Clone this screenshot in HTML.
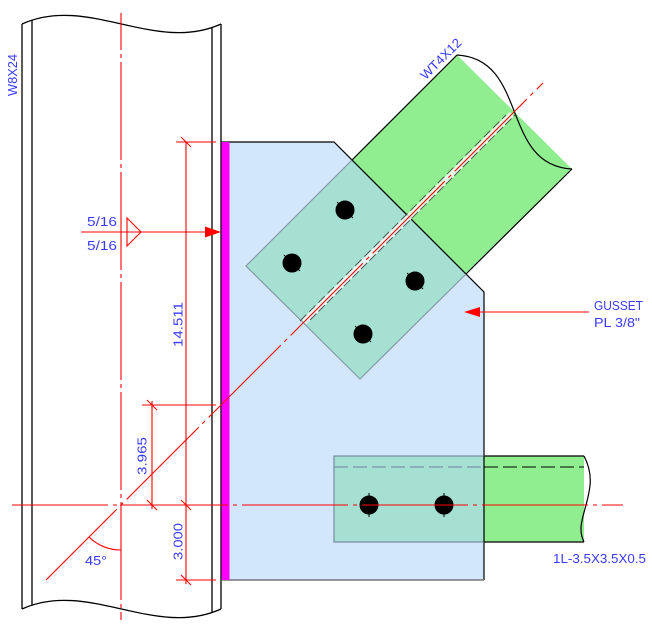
<!DOCTYPE html>
<html>
<head>
<meta charset="utf-8">
<style>
  html,body{margin:0;padding:0;background:#fff;}
  svg{display:block;}
  text{font-family:"Liberation Sans",sans-serif;fill:#3a3aff;font-size:13px;}
</style>
</head>
<body>
<svg width="652" height="631" viewBox="0 0 652 631" xmlns="http://www.w3.org/2000/svg">
  <rect width="652" height="631" fill="#fff"/>

  <!-- Column W8X24 -->
  <g stroke="#000" stroke-width="1.3" fill="none">
    <path d="M22,24 C88,-6 155,54 221,24"/>
    <path d="M22,609 C88,579 155,639 221,609"/>
    <line x1="22" y1="24" x2="22" y2="609"/>
    <line x1="32" y1="20.5" x2="32" y2="605.5"/>
    <line x1="212" y1="27.5" x2="212" y2="612.5"/>
    <line x1="221" y1="24" x2="221" y2="609"/>
  </g>

  <!-- Gusset plate -->
  <polygon points="221,142 334,142 484,292 484,580 221,580" fill="#d2e6fc"/>
  <polyline points="221,142 334,142 484,292 484,580" fill="none" stroke="#000" stroke-width="1.2"/>
  <line x1="221" y1="580" x2="484" y2="580" stroke="#777" stroke-width="1.5"/>

  <!-- Weld (magenta) -->
  <rect x="221" y="142" width="8.5" height="438" fill="#ff00ff"/>
  <line x1="221" y1="142" x2="221" y2="580" stroke="#000" stroke-width="1"/>

  <!-- WT4X12 -->
  <polygon points="352,160 457,55 572,169 466,274" fill="#90ee90"/>
  <polygon points="246,266 352,160 466,274 360,379" fill="#a5e0d2" stroke="#8394a6" stroke-width="1.1"/>
  <g stroke="#000" stroke-width="1.2" fill="none">
    <line x1="352" y1="160" x2="457" y2="55"/>
    <line x1="466" y1="274" x2="572" y2="169"/>
    <line x1="352" y1="160" x2="466" y2="274"/>
    <path d="M457,55 C528.9,58.9 500.1,165.1 572,169"/>
  </g>
  <!-- WT stem (hidden) -->
  <line x1="304" y1="322" x2="512" y2="114" stroke="#fff" stroke-width="6" opacity="0.8"/>
  <line x1="300" y1="321" x2="506" y2="115" stroke="#333" stroke-width="1" stroke-dasharray="9,4" opacity="0.8"/>
  <line x1="310" y1="320" x2="516" y2="114" stroke="#333" stroke-width="1" stroke-dasharray="9,3" opacity="0.8"/>

  <!-- Angle 1L -->
  <rect x="484" y="456" width="100" height="86" fill="#90ee90"/>
  <rect x="334" y="456" width="150" height="86" fill="#a5e0d2" stroke="#6f849a" stroke-width="1.1"/>
  <g stroke="#000" stroke-width="1.2" fill="none">
    <line x1="484" y1="456" x2="584" y2="456"/>
    <line x1="484" y1="542" x2="584" y2="542"/>
    <path d="M584,456 C594,475 590,490 586,505 C582,520 578,530 584,542"/>
    <line x1="484" y1="456" x2="484" y2="542"/>
  </g>
  <line x1="334" y1="467" x2="484" y2="467" stroke="#6f849a" stroke-width="1" stroke-dasharray="14,5"/>
  <line x1="484" y1="467" x2="584" y2="467" stroke="#000" stroke-width="1" stroke-dasharray="14,5"/>

  <!-- Bolts -->
  <g fill="#000" stroke="#000" stroke-width="1">
    <circle cx="345" cy="210" r="9"/>
    <circle cx="292" cy="263" r="9"/>
    <circle cx="415" cy="281" r="9"/>
    <circle cx="363" cy="334" r="9"/>
    <circle cx="369" cy="505" r="9"/>
    <circle cx="444" cy="505" r="9"/>
    <line x1="369" y1="493" x2="369" y2="517"/>
    <line x1="444" y1="493" x2="444" y2="517"/>
    <line x1="337" y1="202" x2="353" y2="218"/>
    <line x1="284" y1="255" x2="300" y2="271"/>
    <line x1="407" y1="273" x2="423" y2="289"/>
    <line x1="355" y1="326" x2="371" y2="342"/>
  </g>

  <!-- Centerlines -->
  <g stroke="#ff0000" stroke-width="1.1" fill="none">
    <line x1="121" y1="13" x2="121" y2="620" stroke-dasharray="98,4,4,4" stroke-dashoffset="61"/>
    <line x1="12" y1="505" x2="623" y2="505" stroke-dasharray="106,5,4,5" stroke-dashoffset="10"/>
    <line x1="46" y1="580" x2="543" y2="83" stroke-dasharray="102,5,4,5" stroke-dashoffset="2"/>
  </g>

  <!-- Dimensions -->
  <g stroke="#ff0000" stroke-width="1.1" fill="none">
    <line x1="176" y1="142" x2="216" y2="142"/>
    <line x1="176" y1="580" x2="216" y2="580"/>
    <line x1="142" y1="405" x2="216" y2="405"/>
    <line x1="186" y1="142" x2="186" y2="584"/>
    <line x1="152" y1="401" x2="152" y2="509"/>
    <line x1="181" y1="137" x2="191" y2="147"/>
    <line x1="181" y1="500" x2="191" y2="510"/>
    <line x1="181" y1="575" x2="191" y2="585"/>
    <line x1="147" y1="400" x2="157" y2="410"/>
    <line x1="147" y1="500" x2="157" y2="510"/>
    <!-- 45 deg arc -->
    <path d="M89,537 A45,45 0 0,0 121,550"/>
    <!-- weld symbol -->
    <line x1="81" y1="232" x2="207" y2="232"/>
    <polygon points="127,218 141,232 127,246"/>
    <!-- gusset leader -->
    <line x1="478" y1="312" x2="589" y2="312"/>
  </g>
  <polygon points="205,226.5 221,232 205,237.5" fill="#ff0000"/>
  <polygon points="464,312 480,307 480,317" fill="#ff0000"/>

  <!-- Labels -->
  <text transform="translate(17,75) rotate(-90)" text-anchor="middle" font-size="12" textLength="42" lengthAdjust="spacingAndGlyphs">W8X24</text>
  <text transform="translate(444,62) rotate(-45)" text-anchor="middle" font-size="12" textLength="52" lengthAdjust="spacingAndGlyphs">WT4X12</text>
  <text x="87" y="226" textLength="30" lengthAdjust="spacingAndGlyphs">5/16</text>
  <text x="87" y="250" textLength="30" lengthAdjust="spacingAndGlyphs">5/16</text>
  <text transform="translate(182.5,324.5) rotate(-90)" text-anchor="middle" textLength="45" lengthAdjust="spacingAndGlyphs">14.511</text>
  <text transform="translate(146.5,456) rotate(-90)" text-anchor="middle" textLength="38" lengthAdjust="spacingAndGlyphs">3.965</text>
  <text transform="translate(182.5,541.5) rotate(-90)" text-anchor="middle" textLength="37" lengthAdjust="spacingAndGlyphs">3.000</text>
  <text x="85" y="565" textLength="22" lengthAdjust="spacingAndGlyphs">45°</text>
  <text x="594" y="310" font-size="12" textLength="49" lengthAdjust="spacingAndGlyphs">GUSSET</text>
  <text x="594" y="327" font-size="12" textLength="46" lengthAdjust="spacingAndGlyphs">PL 3/8"</text>
  <text x="553" y="563" font-size="12" textLength="93" lengthAdjust="spacingAndGlyphs">1L-3.5X3.5X0.5</text>
</svg>
</body>
</html>
